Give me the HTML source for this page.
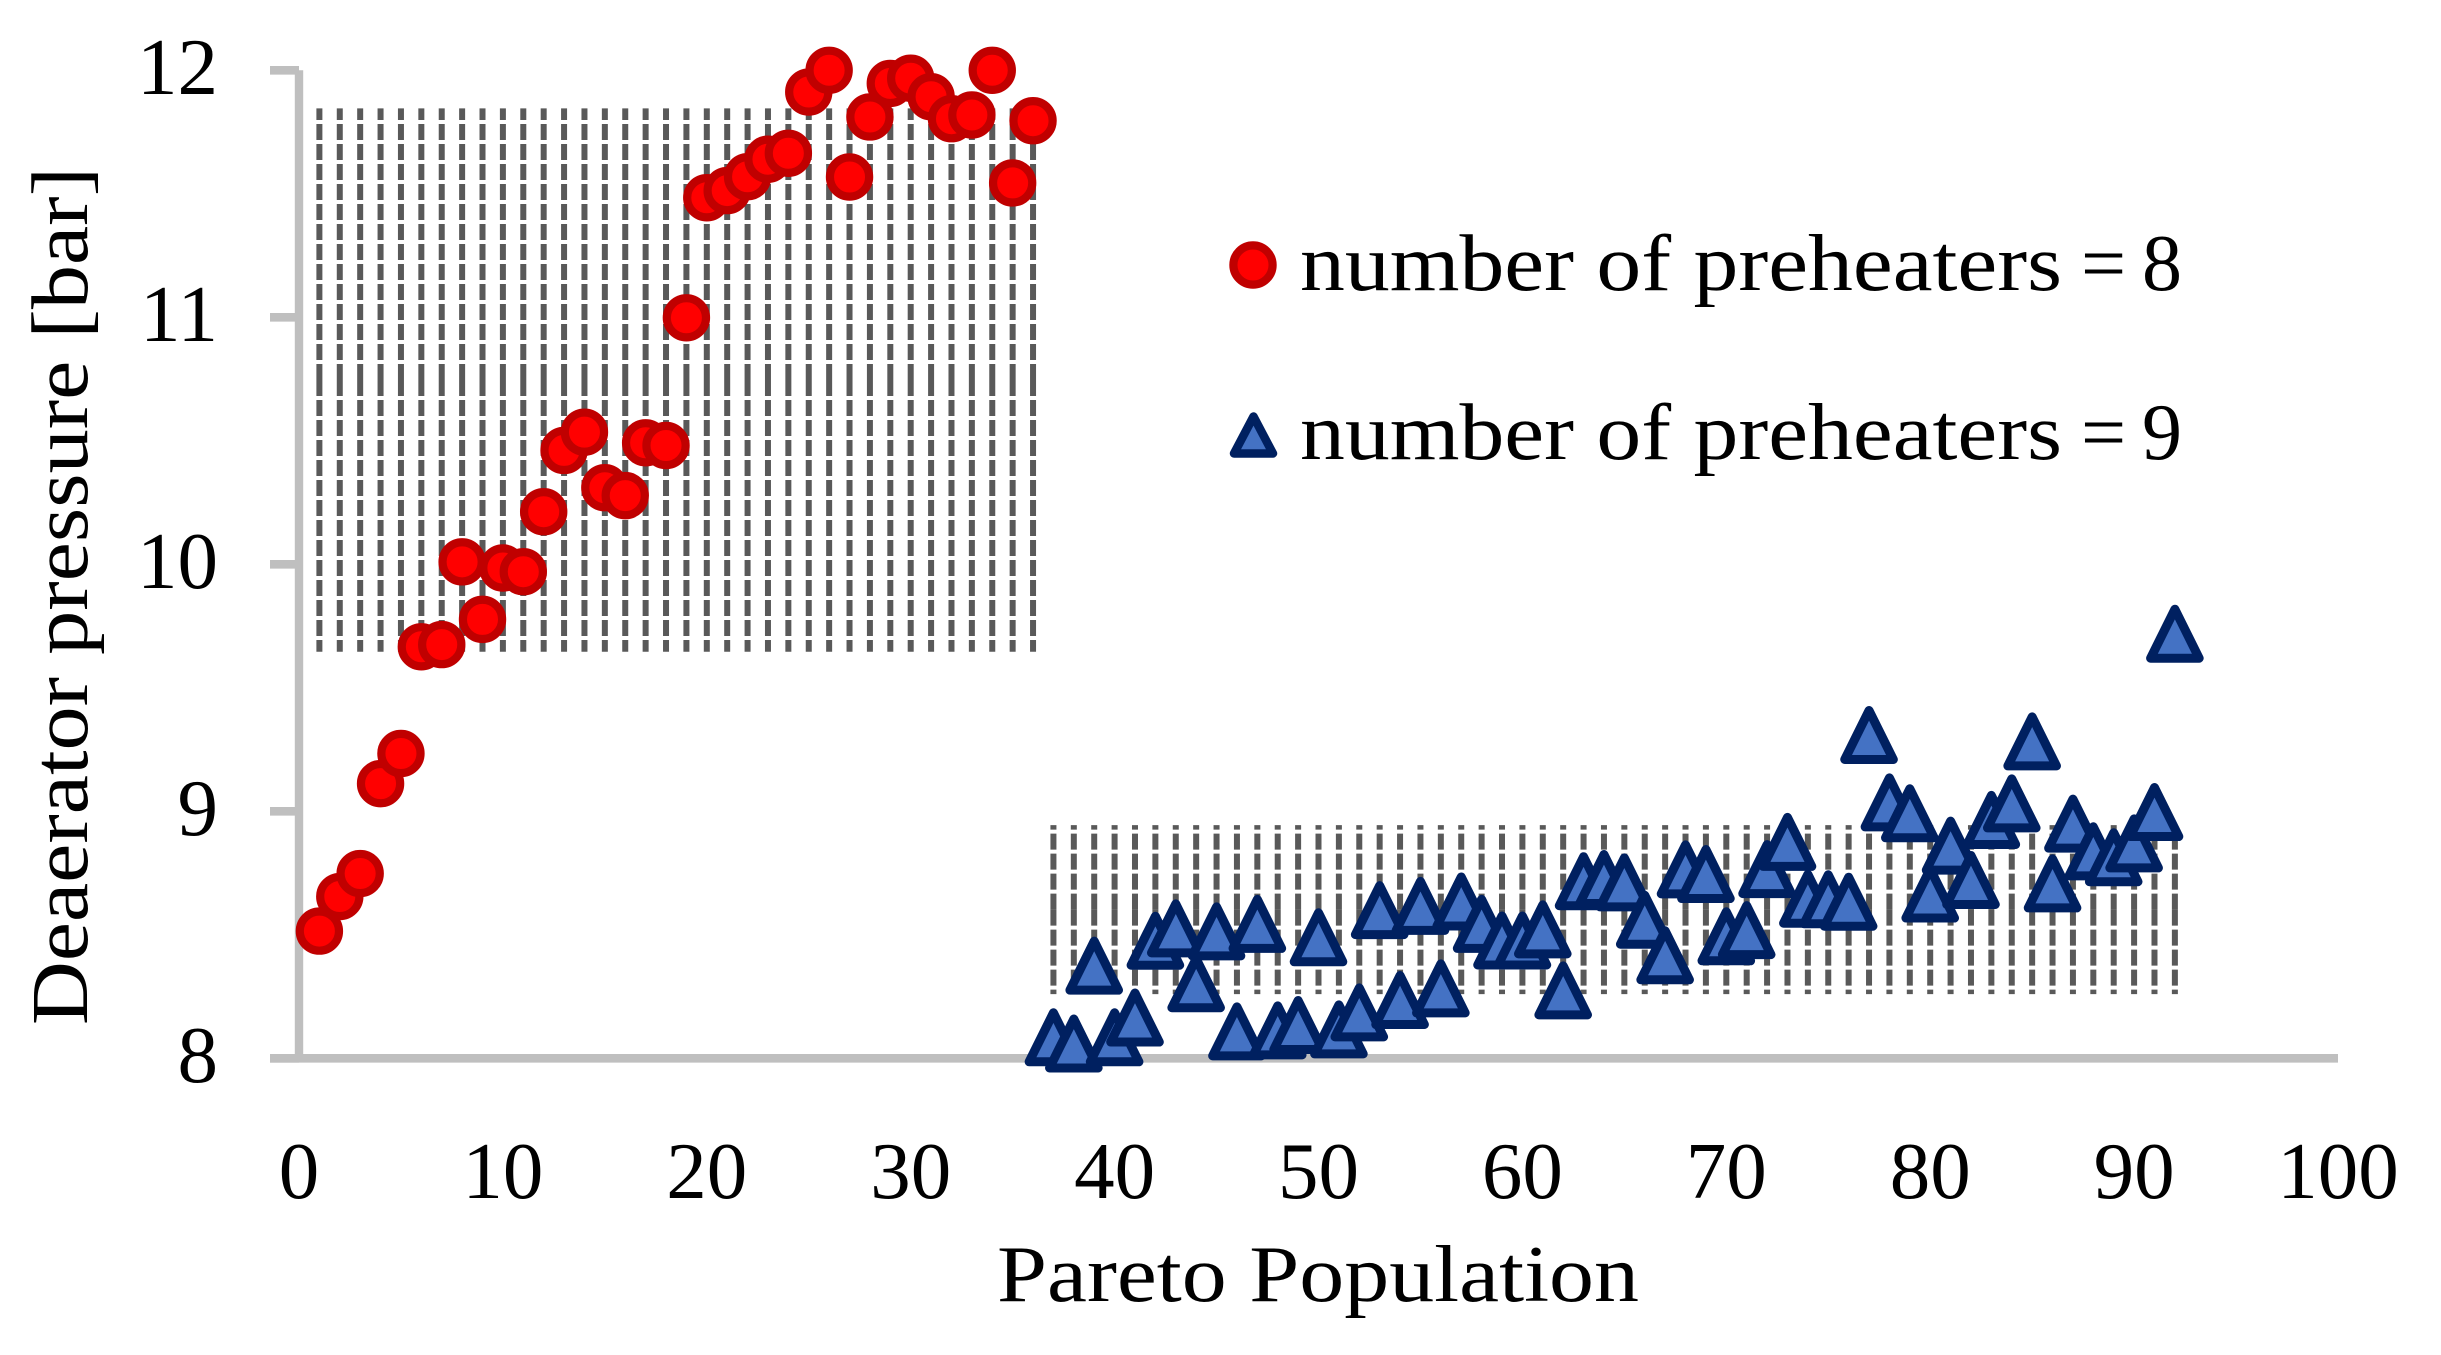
<!DOCTYPE html>
<html lang="en">
<head>
<meta charset="utf-8">
<title>Deaerator pressure vs Pareto population</title>
<style>
  html, body { margin: 0; padding: 0; background: #ffffff; }
  svg { display: block; }
  text { font-family: "Liberation Serif", serif; fill: #000000; }
</style>
</head>
<body>
<svg id="chart" xmlns="http://www.w3.org/2000/svg" width="2441" height="1355" viewBox="0 0 2441 1355">
  <rect x="0" y="0" width="2441" height="1355" fill="#ffffff"/>
  <g id="bands"></g>
  <g id="axes"></g>
  <g id="series8"></g>
  <g id="series9"></g>
  <text transform="translate(87,1025) rotate(-90)" font-size="80" textLength="858" lengthAdjust="spacingAndGlyphs">Deaerator pressure [bar]</text>
  <text x="997" y="1301" font-size="80" textLength="642" lengthAdjust="spacingAndGlyphs">Pareto Population</text>
  <g>
    <circle cx="1253" cy="265" r="19.6" fill="#FF0000" stroke="#C00000" stroke-width="8.2"/>
    <text y="290" font-size="80"><tspan x="1300" textLength="762" lengthAdjust="spacingAndGlyphs">number of preheaters</tspan><tspan x="2081">=</tspan><tspan x="2142">8</tspan></text>
    <path d="M1253.5,416.5 L1273,453.5 L1234,453.5 Z" fill="#4472C4" stroke="#002060" stroke-width="8.5" stroke-linejoin="round"/>
    <text y="459" font-size="80"><tspan x="1300" textLength="762" lengthAdjust="spacingAndGlyphs">number of preheaters</tspan><tspan x="2081">=</tspan><tspan x="2142">9</tspan></text>
  </g>
</svg>
<script>
const population8 = [1,2,3,4,5,6,7,8,9,10,11,12,13,14,15,16,17,18,19,20,21,22,23,24,25,26,27,28,29,30,31,32,33,34,35,36];
const pressure8 = [8.515,8.655,8.748,9.112,9.234,9.666,9.675,10.01,9.777,9.985,9.97,10.213,10.461,10.535,10.31,10.278,10.492,10.481,10.998,11.484,11.513,11.569,11.64,11.664,11.912,12.0,11.568,11.811,11.947,11.968,11.893,11.804,11.819,12.0,11.544,11.796];
const population9 = [37,38,39,40,41,42,43,44,45,46,47,48,49,50,51,52,53,54,55,56,57,58,59,60,61,62,63,64,65,66,67,68,69,70,71,72,73,74,75,76,77,78,79,80,81,82,83,84,85,86,87,88,89,90,91,92];
const pressure9 = [8.085,8.06,8.375,8.085,8.165,8.476,8.526,8.304,8.514,8.109,8.544,8.113,8.135,8.49,8.117,8.186,8.6,8.236,8.617,8.283,8.635,8.544,8.477,8.477,8.522,8.275,8.717,8.726,8.712,8.561,8.417,8.765,8.746,8.494,8.519,8.766,8.876,8.646,8.644,8.634,9.309,9.036,8.992,8.667,8.861,8.722,8.965,9.032,9.283,8.708,8.95,8.838,8.814,8.87,8.997,9.719];
const errorCenter8 = 10.746;
const errorHalf8 = 1.10;
const errorCenter9 = 8.602;
const errorHalf9 = 0.342;
const xTickLabels = [0,10,20,30,40,50,60,70,80,90,100];
const yTickLabels = [8,9,10,11,12];

const SVG_NS = 'http://www.w3.org/2000/svg';
function xPos(v) { return 299 + v * 20.39; }
function yPos(v) { return 1058.3 - (v - 8) * 247; }

const bandsGroup = document.getElementById('bands');
const axesGroup = document.getElementById('axes');
const group8 = document.getElementById('series8');
const group9 = document.getElementById('series9');

function hatchLine(xv, fromV, toV) {
  const el = document.createElementNS(SVG_NS, 'line');
  
  
  el.setAttribute('x1', xPos(xv));
  el.setAttribute('x2', xPos(xv));
  el.setAttribute('y1', yPos(fromV));
  el.setAttribute('y2', yPos(toV));
  el.setAttribute('stroke', '#595959');
  el.setAttribute('stroke-width', '6');
  el.setAttribute('stroke-dasharray', '16 4');
  bandsGroup.appendChild(el);
}
population8.forEach(function (p) {
  hatchLine(p, errorCenter8, errorCenter8 + errorHalf8);
  hatchLine(p, errorCenter8, errorCenter8 - errorHalf8);
});
population9.forEach(function (p) {
  hatchLine(p, errorCenter9, errorCenter9 + errorHalf9);
  hatchLine(p, errorCenter9, errorCenter9 - errorHalf9);
});

const yAxisLine = document.createElementNS(SVG_NS, 'line');


yAxisLine.setAttribute('x1', xPos(0));
yAxisLine.setAttribute('x2', xPos(0));
yAxisLine.setAttribute('y1', yPos(12));
yAxisLine.setAttribute('y2', yPos(8));
yAxisLine.setAttribute('stroke', '#BFBFBF');
yAxisLine.setAttribute('stroke-width', '8.4');
axesGroup.appendChild(yAxisLine);

const xAxisLine = document.createElementNS(SVG_NS, 'line');


xAxisLine.setAttribute('x1', 270);
xAxisLine.setAttribute('x2', xPos(100));
xAxisLine.setAttribute('y1', yPos(8));
xAxisLine.setAttribute('y2', yPos(8));
xAxisLine.setAttribute('stroke', '#BFBFBF');
xAxisLine.setAttribute('stroke-width', '8.6');
axesGroup.appendChild(xAxisLine);

yTickLabels.forEach(function (t) {
  const tick = document.createElementNS(SVG_NS, 'line');
  
  
  tick.setAttribute('x1', 270);
  tick.setAttribute('x2', xPos(0));
  tick.setAttribute('y1', yPos(t));
  tick.setAttribute('y2', yPos(t));
  tick.setAttribute('stroke', '#BFBFBF');
  tick.setAttribute('stroke-width', '8.6');
  axesGroup.appendChild(tick);

  const label = document.createElementNS(SVG_NS, 'text');
  
  
  label.setAttribute('x', 218);
  label.setAttribute('y', yPos(t) + 23.7);
  label.setAttribute('text-anchor', 'end');
  label.setAttribute('font-size', '81');
  label.textContent = String(t);
  axesGroup.appendChild(label);
});

xTickLabels.forEach(function (t) {
  const label = document.createElementNS(SVG_NS, 'text');
  
  
  label.setAttribute('x', xPos(t));
  label.setAttribute('y', 1198);
  label.setAttribute('text-anchor', 'middle');
  label.setAttribute('font-size', '81');
  label.textContent = String(t);
  axesGroup.appendChild(label);
});

pressure8.forEach(function (v, i) {
  const dot = document.createElementNS(SVG_NS, 'circle');
  
  
  dot.setAttribute('cx', xPos(population8[i]));
  dot.setAttribute('cy', yPos(v));
  dot.setAttribute('r', '19.6');
  dot.setAttribute('fill', '#FF0000');
  dot.setAttribute('stroke', '#C00000');
  dot.setAttribute('stroke-width', '8.2');
  group8.appendChild(dot);
});

pressure9.forEach(function (v, i) {
  const cx = xPos(population9[i]);
  const cy = yPos(v);
  const tri = document.createElementNS(SVG_NS, 'path');
  
  
  tri.setAttribute('d', 'M' + cx + ',' + (cy - 24.5) + ' L' + (cx + 24.3) + ',' + (cy + 24.5) + ' L' + (cx - 24.3) + ',' + (cy + 24.5) + ' Z');
  tri.setAttribute('fill', '#4472C4');
  tri.setAttribute('stroke', '#002060');
  tri.setAttribute('stroke-width', '9');
  tri.setAttribute('stroke-linejoin', 'round');
  group9.appendChild(tri);
});
</script>
</body>
</html>
